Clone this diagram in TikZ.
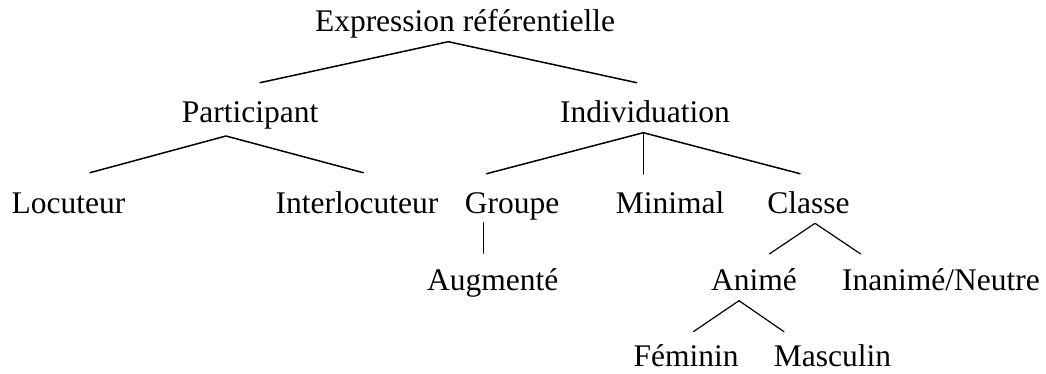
\documentclass[tikz,border=0pt]{standalone}
\usepackage{fontspec}
\setmainfont{Liberation Serif}
\begin{document}
\begin{tikzpicture}[x=1pt,y=-1pt,
  lbl/.style={inner sep=0pt,anchor=base,font=\fontsize{31.5}{38}\selectfont},
  branch/.style={line width=1.5pt,line cap=round,line join=round},
  twig/.style={line width=1.2pt,line cap=round,line join=round}]
\useasboundingbox (0,0) rectangle (1046,374);

% labels, placed on their baselines
\node[lbl] (root) at (465,32) {Expression référentielle};
\node[lbl] (part) at (250,123) {Participant};
\node[lbl] (indiv) at (645,123) {Individuation};
\node[lbl] (loc) at (68.5,213) {Locuteur};
\node[lbl] (interloc) at (357,213) {Interlocuteur};
\node[lbl] (groupe) at (512,213) {Groupe};
\node[lbl] (minimal) at (670,213) {Minimal};
\node[lbl] (classe) at (808.5,213) {Classe};
\node[lbl] (augm) at (492.8,290) {Augmenté};
\node[lbl] (anime) at (754,290) {Animé};
\node[lbl] (inanime) at (941,290) {Inanimé/Neutre};
\node[lbl] (femin) at (686,366) {Féminin};
\node[lbl] (mascu) at (832.5,366) {Masculin};

% branching points and branch ends
\coordinate (root-top) at (448.3,41.7);
\coordinate (root-l) at (260,82.7);
\coordinate (root-r) at (636.7,82.7);
\coordinate (part-top) at (226,136);
\coordinate (part-l) at (90,172.7);
\coordinate (part-r) at (363.3,172.7);
\coordinate (indiv-top) at (643.3,132.7);
\coordinate (indiv-l) at (486.7,173.7);
\coordinate (indiv-m) at (643.3,174);
\coordinate (indiv-r) at (800,173.7);
\coordinate (groupe-top) at (483.3,222.7);
\coordinate (groupe-bot) at (483.3,253.3);
\coordinate (classe-top) at (815,223.3);
\coordinate (classe-l) at (769.3,254);
\coordinate (classe-r) at (860.7,254);
\coordinate (anime-top) at (739,300.7);
\coordinate (anime-l) at (693.3,331.7);
\coordinate (anime-r) at (784,331.7);

% tree branches
\draw[branch] (root-l) -- (root-top) -- (root-r);
\draw[branch] (part-l) -- (part-top) -- (part-r);
\draw[branch] (indiv-l) -- (indiv-top) -- (indiv-r);
\draw[branch] (indiv-top) -- (indiv-m);
\draw[twig] (groupe-top) -- (groupe-bot);
\draw[twig] (classe-l) -- (classe-top) -- (classe-r);
\draw[twig] (anime-l) -- (anime-top) -- (anime-r);
\end{tikzpicture}
\end{document}
